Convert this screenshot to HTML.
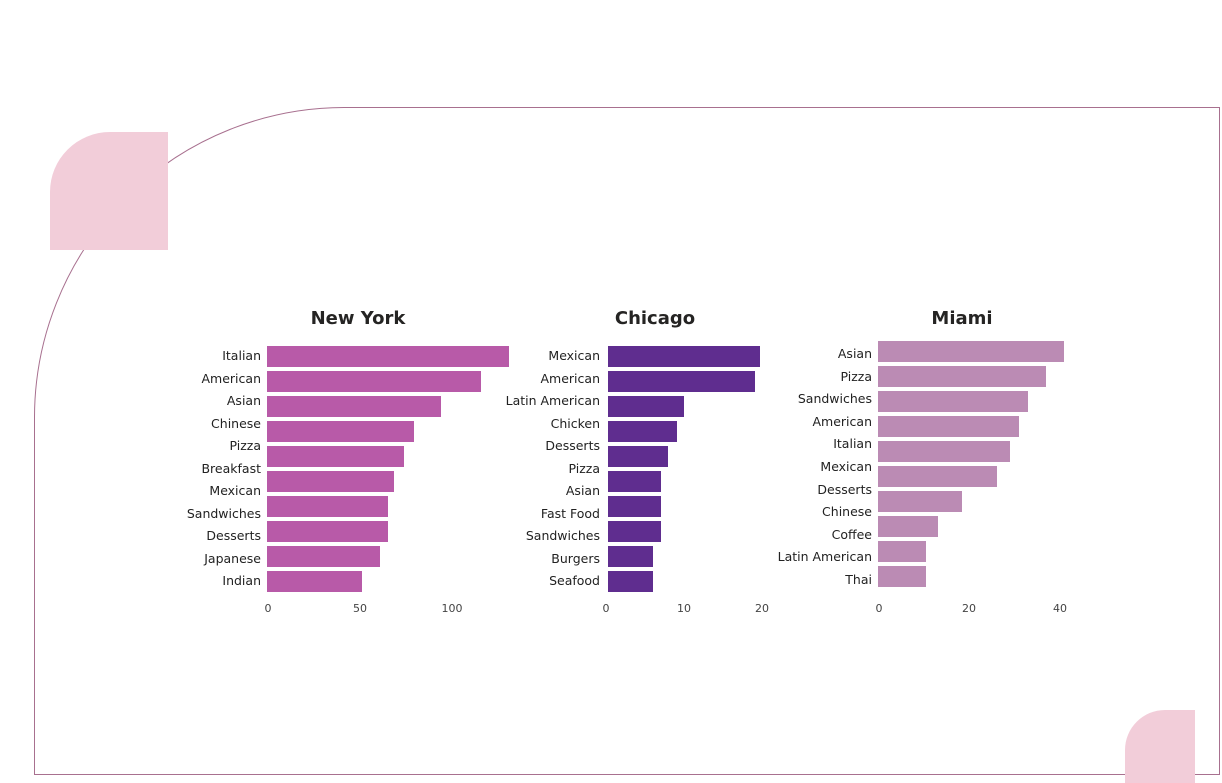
<!DOCTYPE html>
<html><head><meta charset="utf-8"><style>
body{margin:0;background:#fff;}
svg{display:block;font-family:"DejaVu Sans","Liberation Sans",sans-serif;}
.l{font-size:12.5px;fill:#222;text-anchor:end;}
.t{font-size:11px;fill:#444;text-anchor:middle;}
.h{font-size:18px;font-weight:bold;fill:#252423;text-anchor:middle;}
</style></head><body>
<svg width="1222" height="783" viewBox="0 0 1222 783">
<path d="M34.5 774.5 V417 A310 310 0 0 1 344 107.5 H1219.5 V774.5 Z" fill="none" stroke="#a8708f" stroke-width="1"/>
<path d="M50 250 V192 A60 60 0 0 1 110 132 H168 V250 Z" fill="#f2cdd9"/>
<path d="M1125 783 V750 A40 40 0 0 1 1165 710 H1195 V783 Z" fill="#f2cdd9"/>

<text class="h" x="358" y="324">New York</text>
<g fill="#b85aa8">
<rect x="267" y="346" width="242" height="21"/>
<rect x="267" y="371" width="214" height="21"/>
<rect x="267" y="396" width="174" height="21"/>
<rect x="267" y="421" width="147" height="21"/>
<rect x="267" y="446" width="137" height="21"/>
<rect x="267" y="471" width="127" height="21"/>
<rect x="267" y="496" width="121" height="21"/>
<rect x="267" y="521" width="121" height="21"/>
<rect x="267" y="546" width="113" height="21"/>
<rect x="267" y="571" width="95" height="21"/>
</g>
<g class="l">
<text x="261" y="360">Italian</text><text x="261" y="383">American</text><text x="261" y="405">Asian</text><text x="261" y="428">Chinese</text><text x="261" y="450">Pizza</text><text x="261" y="473">Breakfast</text><text x="261" y="495">Mexican</text><text x="261" y="518">Sandwiches</text><text x="261" y="540">Desserts</text><text x="261" y="563">Japanese</text><text x="261" y="585">Indian</text>
</g>
<g class="t"><text x="268" y="612">0</text><text x="360" y="612">50</text><text x="452" y="612">100</text></g>

<text class="h" x="655" y="324">Chicago</text>
<g fill="#5f2d8f">
<rect x="608" y="346" width="152" height="21"/>
<rect x="608" y="371" width="147" height="21"/>
<rect x="608" y="396" width="76" height="21"/>
<rect x="608" y="421" width="69" height="21"/>
<rect x="608" y="446" width="60" height="21"/>
<rect x="608" y="471" width="53" height="21"/>
<rect x="608" y="496" width="53" height="21"/>
<rect x="608" y="521" width="53" height="21"/>
<rect x="608" y="546" width="45" height="21"/>
<rect x="608" y="571" width="45" height="21"/>
</g>
<g class="l">
<text x="600" y="360">Mexican</text><text x="600" y="383">American</text><text x="600" y="405">Latin American</text><text x="600" y="428">Chicken</text><text x="600" y="450">Desserts</text><text x="600" y="473">Pizza</text><text x="600" y="495">Asian</text><text x="600" y="518">Fast Food</text><text x="600" y="540">Sandwiches</text><text x="600" y="563">Burgers</text><text x="600" y="585">Seafood</text>
</g>
<g class="t"><text x="606" y="612">0</text><text x="684" y="612">10</text><text x="762" y="612">20</text></g>

<text class="h" x="962" y="324">Miami</text>
<g fill="#bb8bb4">
<rect x="878" y="341" width="186" height="21"/>
<rect x="878" y="366" width="168" height="21"/>
<rect x="878" y="391" width="150" height="21"/>
<rect x="878" y="416" width="141" height="21"/>
<rect x="878" y="441" width="132" height="21"/>
<rect x="878" y="466" width="119" height="21"/>
<rect x="878" y="491" width="84" height="21"/>
<rect x="878" y="516" width="60" height="21"/>
<rect x="878" y="541" width="48" height="21"/>
<rect x="878" y="566" width="48" height="21"/>
</g>
<g class="l">
<text x="872" y="358">Asian</text><text x="872" y="381">Pizza</text><text x="872" y="403">Sandwiches</text><text x="872" y="426">American</text><text x="872" y="448">Italian</text><text x="872" y="471">Mexican</text><text x="872" y="494">Desserts</text><text x="872" y="516">Chinese</text><text x="872" y="539">Coffee</text><text x="872" y="561">Latin American</text><text x="872" y="584">Thai</text>
</g>
<g class="t"><text x="879" y="612">0</text><text x="969" y="612">20</text><text x="1060" y="612">40</text></g>
</svg>
</body></html>
